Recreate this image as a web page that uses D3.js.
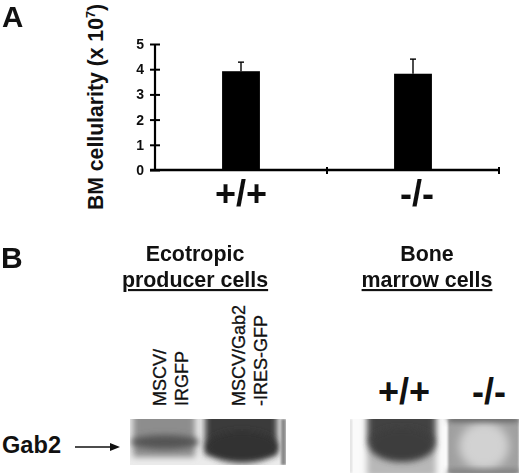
<!DOCTYPE html>
<html><head><meta charset="utf-8">
<script src="https://cdn.jsdelivr.net/npm/d3@7/dist/d3.min.js"></script>
<style>
html,body{margin:0;padding:0;background:#fff}
svg{display:block}
text{font-family:"Liberation Sans",Arial,sans-serif;font-weight:bold;fill:#111}
</style></head><body>
<svg id="c" width="520" height="473"></svg>
<script>
const categories = ["+/+", "-/-"];
const values = [3.92, 3.82];
const errors = [0.36, 0.58];
const yTicks = [0, 1, 2, 3, 4, 5];
const blotGroups = ["Ecotropic producer cells", "Bone marrow cells"];

const svg = d3.select("#c");
const defs = svg.append("defs");
[1.2, 3, 5, 8].forEach(s => defs.append("filter").attr("id", "b" + s)
  .attr("x", "-40%").attr("y", "-60%").attr("width", "180%").attr("height", "220%")
  .append("feGaussianBlur").attr("stdDeviation", s));
const soft = defs.append("filter").attr("id", "soft");
soft.append("feGaussianBlur").attr("stdDeviation", 0.35);

const y = d3.scaleLinear().domain([0, 5]).range([170, 44]);
const x = d3.scaleBand().domain(categories).range([155, 499]).paddingInner(0.78).paddingOuter(0.39);

const chart = svg.append("g").attr("filter", "url(#soft)");
const cx = d => x(d) + x.bandwidth() / 2;

categories.forEach((c, i) => {
  chart.append("line").attr("x1", cx(c)).attr("x2", cx(c)).attr("y1", y(values[i])).attr("y2", y(values[i] + errors[i]))
    .attr("stroke", "#000").attr("stroke-width", 1.4);
  chart.append("line").attr("x1", cx(c) - 3).attr("x2", cx(c) + 3).attr("y1", y(values[i] + errors[i])).attr("y2", y(values[i] + errors[i]))
    .attr("stroke", "#000").attr("stroke-width", 1.4);
});
chart.selectAll("rect.bar").data(categories).join("rect").attr("class", "bar")
  .attr("x", d => x(d)).attr("width", x.bandwidth())
  .attr("y", (d, i) => y(values[i])).attr("height", (d, i) => y(0) - y(values[i]))
  .attr("fill", "#000");

const yAxis = chart.append("g").attr("transform", "translate(155,0)")
  .call(d3.axisLeft(y).tickValues(yTicks).tickFormat(d3.format("d")).tickSize(5).tickPadding(4));
yAxis.selectAll("line").attr("stroke", "#000").attr("stroke-width", 2).attr("x2", 5).attr("x1", -5);
yAxis.select(".domain").attr("stroke", "#000").attr("stroke-width", 2.2).attr("d", "M0,44V170");
yAxis.selectAll("text").attr("font-size", 14).attr("font-family", "Liberation Sans").attr("font-weight", "bold").attr("x", -11).attr("fill", "#111");

chart.append("line").attr("x1", 150).attr("x2", 499).attr("y1", y(0)).attr("y2", y(0))
  .attr("stroke", "#000").attr("stroke-width", 2.4);
const bandStep = x.step();
[cx(categories[0]) + bandStep / 2, 499].forEach(p => chart.append("line")
  .attr("x1", p).attr("x2", p).attr("y1", 167).attr("y2", 174).attr("stroke", "#000").attr("stroke-width", 2));

chart.selectAll("text.xl").data(categories).join("text").attr("class", "xl")
  .attr("x", (d, i) => cx(d) + (i ? 4 : 0)).attr("y", 206).attr("text-anchor", "middle")
  .attr("font-size", 36).text(d => d);

const yt = svg.append("text").attr("transform", "translate(103,210) rotate(-90)").attr("font-size", 21.2);
yt.append("tspan").text("BM cellularity (x 10");
yt.append("tspan").attr("font-size", 12.5).attr("dy", -8).text("7");
yt.append("tspan").attr("dy", 8).text(")");

svg.append("text").attr("x", 2).attr("y", 27).attr("font-size", 29.5).text("A");
svg.append("text").attr("x", 1).attr("y", 268).attr("font-size", 30).text("B");

function title(cxp, l1, l2, y1) {
  svg.append("text").attr("x", cxp).attr("y", y1).attr("text-anchor", "middle").attr("font-size", 21.4).text(l1);
  svg.append("text").attr("x", cxp).attr("y", y1 + 26).attr("text-anchor", "middle").attr("font-size", 21.4)
    .attr("text-decoration", "underline").text(l2);
}
title(195, "Ecotropic", "producer cells", 261);
title(427, "Bone", "marrow cells", 261);

function lane(px, lines) {
  lines.forEach((t, i) => svg.append("text")
    .attr("transform", `translate(${px + i * 22},406) rotate(-90)`).attr("font-size", 18)
    .style("font-weight", "normal").attr("stroke", "#111").attr("stroke-width", 0.3).text(t));
}
lane(166, ["MSCV/", "IRGFP"]);
lane(245, ["MSCV/Gab2", "-IRES-GFP"]);

svg.append("text").attr("x", 404).attr("y", 404).attr("text-anchor", "middle").attr("font-size", 36).text("+/+");
svg.append("text").attr("x", 489).attr("y", 404).attr("text-anchor", "middle").attr("font-size", 36).text("-/-");

svg.append("text").attr("x", 2).attr("y", 453).attr("font-size", 23.6).text("Gab2");
svg.append("line").attr("x1", 75).attr("x2", 115).attr("y1", 447).attr("y2", 447).attr("stroke", "#111").attr("stroke-width", 1.5);
svg.append("path").attr("d", d3.line()([[110, 443], [120, 447], [110, 451]])).attr("fill", "#111");

function blot(id, bx, by, bw, bh, bg, blobs) {
  const cp = defs.append("clipPath").attr("id", id);
  cp.append("rect").attr("x", bx).attr("y", by).attr("width", bw).attr("height", bh);
  const g = svg.append("g").attr("clip-path", `url(#${id})`);
  g.append("rect").attr("x", bx).attr("y", by).attr("width", bw).attr("height", bh).attr("fill", bg);
  blobs.forEach(b => g.append(b.e ? "ellipse" : "rect").call(s => {
    if (b.e) s.attr("cx", b.x).attr("cy", b.y).attr("rx", b.w).attr("ry", b.h);
    else s.attr("x", b.x).attr("y", b.y).attr("width", b.w).attr("height", b.h);
  }).attr("fill", b.c).attr("filter", `url(#b${b.b})`));
}
blot("p1", 130, 419, 156, 46, "#ececec", [
  {x: 133, y: 405, w: 62, h: 52, c: "#8d8d8d", b: 3},
  {e: 1, x: 165, y: 442, w: 34, h: 7, c: "#555", b: 3},
  {x: 205, y: 405, w: 72, h: 50, c: "#3a3a3a", b: 3},
  {e: 1, x: 242, y: 447, w: 36, h: 16, c: "#333", b: 3},
  {x: 281, y: 419, w: 5, h: 46, c: "#8a8a8a", b: 1.2}
]);
blot("p2", 350, 419, 169, 54, "#fafafa", [
  {x: 350, y: 419, w: 1.5, h: 54, c: "#ccc", b: 1.2},
  {x: 367, y: 405, w: 69, h: 72, c: "#b8b8b8", b: 3},
  {x: 368, y: 408, w: 67, h: 36, c: "#434343", b: 3},
  {e: 1, x: 402, y: 445, w: 33, h: 17, c: "#3e3e3e", b: 3},
  {x: 448, y: 419, w: 71, h: 54, c: "#a0a0a0", b: 1.2},
  {e: 1, x: 484, y: 446, w: 25, h: 24, c: "#d2d2d2", b: 5},
  {x: 448, y: 412, w: 71, h: 9, c: "#555", b: 3},
  {x: 448, y: 470, w: 71, h: 7, c: "#777", b: 3}
]);
</script>
</body></html>
